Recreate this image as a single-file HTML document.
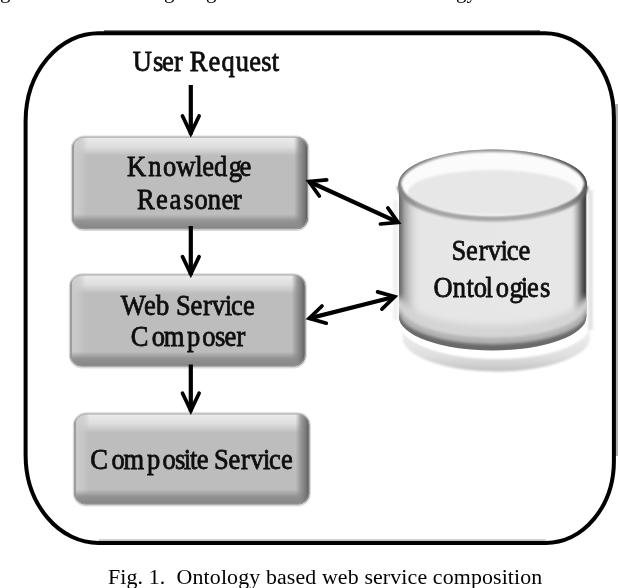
<!DOCTYPE html>
<html lang="en">
<head>
<meta charset="utf-8">
<title>Fig. 1. Ontology based web service composition</title>
<style>
  html, body { margin: 0; padding: 0; background: #fff; }
  body { width: 618px; height: 588px; overflow: hidden; position: relative; }
  svg { position: absolute; left: 0; top: 0; display: block; }
  text { font-family: "Liberation Serif", "DejaVu Serif", serif; }
</style>
</head>
<body>
<svg width="618" height="588" viewBox="0 0 618 588">
  <defs>
    <!-- box bevel gradients -->
    <linearGradient id="gTop" x1="0" y1="0" x2="0" y2="1">
      <stop offset="0" stop-color="#ececec" stop-opacity="1"/>
      <stop offset="0.5" stop-color="#e0e0e0" stop-opacity="0.95"/>
      <stop offset="0.78" stop-color="#d4d4d4" stop-opacity="0.6"/>
      <stop offset="1" stop-color="#c0c0c0" stop-opacity="0"/>
    </linearGradient>
    <linearGradient id="gBot" x1="0" y1="0" x2="0" y2="1">
      <stop offset="0" stop-color="#909090" stop-opacity="0"/>
      <stop offset="0.45" stop-color="#8e8e8e" stop-opacity="0.9"/>
      <stop offset="1" stop-color="#848484" stop-opacity="1"/>
    </linearGradient>
    <linearGradient id="gRight" x1="0" y1="0" x2="1" y2="0">
      <stop offset="0" stop-color="#8c8c8c" stop-opacity="0"/>
      <stop offset="0.4" stop-color="#8a8a8a" stop-opacity="0.8"/>
      <stop offset="0.8" stop-color="#727272" stop-opacity="1"/>
      <stop offset="1" stop-color="#525252" stop-opacity="1"/>
    </linearGradient>
    <linearGradient id="gLeft" x1="0" y1="0" x2="1" y2="0">
      <stop offset="0" stop-color="#868686" stop-opacity="1"/>
      <stop offset="0.07" stop-color="#8c8c8c" stop-opacity="1"/>
      <stop offset="0.16" stop-color="#cccccc" stop-opacity="0.95"/>
      <stop offset="0.6" stop-color="#c9c9c9" stop-opacity="0.7"/>
      <stop offset="1" stop-color="#c4c4c4" stop-opacity="0"/>
    </linearGradient>
    <filter id="soft" x="-5%" y="-5%" width="110%" height="110%">
      <feGaussianBlur stdDeviation="0.6"/>
    </filter>
    <filter id="tblur" x="-2%" y="-20%" width="104%" height="140%">
      <feGaussianBlur stdDeviation="0.45"/>
    </filter>
    <filter id="cblur" x="-2%" y="-20%" width="104%" height="140%">
      <feGaussianBlur stdDeviation="0.25"/>
    </filter>
    <filter id="rimblur2" x="-5%" y="-60%" width="110%" height="220%">
      <feGaussianBlur stdDeviation="3"/>
    </filter>
    <filter id="rimblur" x="-5%" y="-50%" width="110%" height="200%">
      <feGaussianBlur stdDeviation="1.8"/>
    </filter>
    <filter id="ablur" x="-5%" y="-5%" width="110%" height="110%">
      <feGaussianBlur stdDeviation="0.35"/>
    </filter>
    <filter id="soft3" x="-5%" y="-15%" width="110%" height="130%">
      <feGaussianBlur stdDeviation="1.15"/>
    </filter>
    <filter id="soft2" x="-10%" y="-10%" width="120%" height="130%">
      <feGaussianBlur stdDeviation="1.2"/>
    </filter>

    <clipPath id="cb1"><rect x="72" y="136.8" width="236" height="92.4" rx="12" ry="12"/></clipPath>
    <clipPath id="cb2"><rect x="70" y="274.6" width="235.5" height="92" rx="12" ry="12"/></clipPath>
    <clipPath id="cb3"><rect x="74" y="413.6" width="235.5" height="91" rx="12" ry="12"/></clipPath>

    <!-- cylinder gradients -->
    <linearGradient id="cylBody" x1="0" y1="0" x2="1" y2="0">
      <stop offset="0" stop-color="#e6e6e6"/>
      <stop offset="1" stop-color="#e7e7e7"/>
    </linearGradient>
    <linearGradient id="cylSide" gradientUnits="userSpaceOnUse" x1="399" y1="0" x2="586.3" y2="0">
      <stop offset="0" stop-color="#6a6a6a" stop-opacity="1"/>
      <stop offset="0.012" stop-color="#787878" stop-opacity="1"/>
      <stop offset="0.03" stop-color="#a2a2a2" stop-opacity="0.97"/>
      <stop offset="0.06" stop-color="#c8c8c8" stop-opacity="0.9"/>
      <stop offset="0.085" stop-color="#dadada" stop-opacity="0.7"/>
      <stop offset="0.12" stop-color="#e6e6e6" stop-opacity="0"/>
      <stop offset="0.915" stop-color="#e6e6e6" stop-opacity="0"/>
      <stop offset="0.94" stop-color="#c6c6c6" stop-opacity="0.85"/>
      <stop offset="0.958" stop-color="#9e9e9e" stop-opacity="1"/>
      <stop offset="0.976" stop-color="#666666" stop-opacity="1"/>
      <stop offset="0.99" stop-color="#444444" stop-opacity="1"/>
      <stop offset="1" stop-color="#505050" stop-opacity="1"/>
    </linearGradient>
    <linearGradient id="cylRefl" x1="0" y1="0" x2="0" y2="1">
      <stop offset="0" stop-color="#f4f4f4"/>
      <stop offset="0.7" stop-color="#dedede"/>
      <stop offset="1" stop-color="#c2c2c2"/>
    </linearGradient>
    <linearGradient id="rimBack" gradientUnits="userSpaceOnUse" x1="399" y1="0" x2="586.3" y2="0">
      <stop offset="0" stop-color="#7c7c7c"/>
      <stop offset="0.25" stop-color="#a4a4a4"/>
      <stop offset="0.6" stop-color="#9c9c9c"/>
      <stop offset="0.85" stop-color="#6c6c6c"/>
      <stop offset="1" stop-color="#4c4c4c"/>
    </linearGradient>
    <linearGradient id="rimFront" gradientUnits="userSpaceOnUse" x1="399" y1="0" x2="586.3" y2="0">
      <stop offset="0" stop-color="#808080"/>
      <stop offset="0.12" stop-color="#a4a4a4"/>
      <stop offset="0.8" stop-color="#ababab"/>
      <stop offset="0.93" stop-color="#8a8a8a"/>
      <stop offset="1" stop-color="#5a5a5a"/>
    </linearGradient>
    <clipPath id="ctop"><ellipse cx="492.65" cy="184.5" rx="94.3" ry="35.2"/></clipPath>
    <clipPath id="ccyl"><path d="M399,184.5 L399,316.5 A93.65,34 0 0 0 586.3,316.5 L586.3,184.5 Z"/></clipPath>
  </defs>

  <rect x="0" y="0" width="618" height="588" fill="#ffffff"/>

  <!-- clipped line of body text above the figure: only descenders remain visible -->
  <g font-size="21" fill="#000" filter="url(#cblur)">
    <text x="0" y="-2.5">g</text>
    <text x="164" y="-2.5">g</text>
    <text x="206" y="-2.5">g</text>
    <text x="456" y="-2.5">gy</text>
  </g>

  <!-- outer rounded frame -->
  <rect x="615.3" y="104" width="2.7" height="352" fill="#b0b0b0"/>
  <rect x="98.6" y="539.2" width="447.3" height="2" fill="#c6c6c6"/>
  <rect x="104" y="30.1" width="436" height="2" fill="#6c6c6c"/>
  <path d="M98.6,33.2 H544.9 A69,84 0 0 1 613.9,117.2 V460.9 A68,82 0 0 1 545.9,542.9 H98.6 A73,88 0 0 1 25.6,454.9 V121.2 A73,88 0 0 1 98.6,33.2 Z" fill="none" stroke="#000" stroke-width="4"/>

  <!-- ===== Box 1 : Knowledge Reasoner ===== -->
  <g filter="url(#soft)">
    <rect x="70.8" y="135.5" width="238.6" height="95.5" rx="13.2" ry="13.2" fill="#d9d9d9"/>
    <rect x="72" y="136.8" width="236" height="92.4" rx="12" ry="12" fill="#bdbdbd"/>
    <g clip-path="url(#cb1)">
      <rect x="72" y="136.8" width="236" height="20" fill="url(#gTop)"/>
      <rect x="72" y="136.8" width="16" height="92.4" fill="url(#gLeft)"/>
      <rect x="72" y="214.2" width="236" height="15" fill="url(#gBot)"/>
      <rect x="294" y="136.8" width="14" height="92.4" fill="url(#gRight)"/>
    </g>
    <rect x="72.5" y="137.3" width="235" height="91.4" rx="11.5" ry="11.5" fill="none" stroke="#a2a2a2" stroke-width="1" stroke-opacity="0.8"/>
  </g>

  <!-- ===== Box 2 : Web Service Composer ===== -->
  <g filter="url(#soft)">
    <rect x="68.8" y="273.3" width="238.1" height="95.1" rx="13.2" ry="13.2" fill="#d9d9d9"/>
    <rect x="70" y="274.6" width="235.5" height="92" rx="12" ry="12" fill="#bdbdbd"/>
    <g clip-path="url(#cb2)">
      <rect x="70" y="274.6" width="235.5" height="20" fill="url(#gTop)"/>
      <rect x="70" y="274.6" width="16" height="92" fill="url(#gLeft)"/>
      <rect x="70" y="351.6" width="235.5" height="15" fill="url(#gBot)"/>
      <rect x="291.5" y="274.6" width="14" height="92" fill="url(#gRight)"/>
    </g>
    <rect x="70.5" y="275.1" width="234.5" height="91" rx="11.5" ry="11.5" fill="none" stroke="#a2a2a2" stroke-width="1" stroke-opacity="0.8"/>
  </g>

  <!-- ===== Box 3 : Composite Service ===== -->
  <g filter="url(#soft)">
    <rect x="72.8" y="412.3" width="238.1" height="94.1" rx="13.2" ry="13.2" fill="#d9d9d9"/>
    <rect x="74" y="413.6" width="235.5" height="91" rx="12" ry="12" fill="#bdbdbd"/>
    <g clip-path="url(#cb3)">
      <rect x="74" y="413.6" width="235.5" height="20" fill="url(#gTop)"/>
      <rect x="74" y="413.6" width="16" height="91" fill="url(#gLeft)"/>
      <rect x="74" y="489.6" width="235.5" height="15" fill="url(#gBot)"/>
      <rect x="295.5" y="413.6" width="14" height="91" fill="url(#gRight)"/>
    </g>
    <rect x="74.5" y="414.1" width="234.5" height="90" rx="11.5" ry="11.5" fill="none" stroke="#a2a2a2" stroke-width="1" stroke-opacity="0.8"/>
  </g>

  <!-- ===== Cylinder : Service Ontologies ===== -->
  <!-- soft shadow / reflection below and to the right -->
  <g filter="url(#soft2)">
    <path d="M402.5,327 A93.65,34 0 0 0 590,323 L590,336.5 A93.65,34 0 0 1 402.5,338.5 Z" fill="url(#cylRefl)"/>
    <rect x="588" y="190" width="5" height="140" fill="#d8d8d8" opacity="0.7"/>
    <rect x="393" y="200" width="5" height="120" fill="#eeeeee" opacity="0.8"/>
  </g>
  <g filter="url(#soft)">
    <!-- white gap under the body -->
    <path d="M399,318 A93.65,34 0 0 0 586.3,318 L586.3,323.3 A93.65,34 0 0 1 399,323.3 Z" fill="#ffffff"/>
    <!-- body -->
    <path d="M399,184.5 L399,316.5 A93.65,34 0 0 0 586.3,316.5 L586.3,184.5 Z" fill="url(#cylBody)"/>
    <!-- side shading re-applied over the rim -->
    <path d="M399,184.5 L399,316.5 A93.65,34 0 0 0 586.3,316.5 L586.3,184.5 Z" fill="url(#cylSide)"/>
    <!-- dark lower rim, blurred upward into the body -->
    <g clip-path="url(#ccyl)">
      <g filter="url(#rimblur2)" fill="none">
        <path d="M396,298 A96.8,34 0 0 0 589.7,298" stroke="#d4d4d4" stroke-width="14"/>
      </g>
      <g filter="url(#rimblur)" fill="none">
        <path d="M396,308.5 A96.8,34 0 0 0 589.7,308.5" stroke="#b4b4b4" stroke-width="10"/>
        <path d="M396,314.5 A96.8,34 0 0 0 589.7,314.5" stroke="#6a6a6a" stroke-width="9"/>
      </g>
    </g>
    <!-- top face -->
    <ellipse cx="492.65" cy="184.5" rx="93.65" ry="34.5" fill="#fbfbfb"/>
  </g>
  <g filter="url(#soft2)">
    <ellipse cx="492.65" cy="192.5" rx="85" ry="22.5" fill="#e7e7e7"/>
  </g>
  <g clip-path="url(#ctop)">
    <g filter="url(#soft3)" fill="none">
      <ellipse cx="492.65" cy="184.5" rx="93.65" ry="34.5" stroke="url(#rimBack)" stroke-width="4.2"/>
    </g>
  </g>
  <g filter="url(#soft3)" fill="none">
    <path d="M399.3,186 A93.35,33.2 0 0 0 586,186" stroke="url(#rimFront)" stroke-width="4.4"/>
  </g>
  <g filter="url(#soft)" fill="none">
    <path d="M399,188 L399,184.5 A93.65,34.5 0 0 1 586.3,184.5 L586.3,188" stroke="url(#rimBack)" stroke-width="1.2"/>
  </g>

  <!-- ===== Arrows ===== -->
  <g stroke="#000" fill="none" filter="url(#ablur)">
    <path stroke-width="4.2" stroke-linecap="butt" d="M190.8,85.0 L190.8,134.4 M190.8,226.0 L190.8,275.0 M190.8,364.5 L190.8,411.6 M309.0,181.5 L398.1,222.4 M309.2,318.4 L394.7,296.7"/>
    <path stroke-width="3.7" stroke-linecap="round" stroke-linejoin="miter" d="M182.5,116.0 L190.8,133.4 L199.1,116.0 M182.5,256.6 L190.8,274.0 L199.1,256.6 M182.5,393.2 L190.8,410.6 L199.1,393.2 M380.4,224.0 L398.1,222.4 L387.8,207.9 M326.7,179.9 L309.0,181.5 L319.3,196.0 M381.9,309.1 L394.7,296.7 L377.6,291.9 M322.0,306.0 L309.2,318.4 L326.3,323.2"/>
  </g>

  <!-- ===== Labels (Times, vertically stretched as in the scan) ===== -->
  <g font-size="26.5" fill="#0a0a0a" stroke="#0a0a0a" stroke-width="0.7" filter="url(#tblur)">
    <g transform="translate(0,70.9) scale(1,1.14)"><text x="132.8 153.0 162.0 174.0 182.8 189.8 208.5 221.4 235.8 249.3 261.2 271.8" y="0">User Request</text></g>
    <g transform="translate(0,176.2) scale(1,1.14)"><text x="126.9 148.2 163.0 176.2 195.3 202.2 214.1 228.8 239.5" y="0">Knowledge</text></g>
    <g transform="translate(0,208.6) scale(1,1.14)"><text x="137.0 155.9 169.5 183.4 194.6 207.8 221.4 232.8" y="0">Reasoner</text></g>
    <g transform="translate(0,314.5) scale(1,1.14)"><text x="120.8 143.9 155.9 169.2 176.0 190.5 202.9 211.9 224.8 231.0 242.9" y="0">Web Service</text></g>
    <g transform="translate(0,346.2) scale(1,1.14)"><text x="130.7 151.8 163.7 187.1 202.2 215.0 224.6 236.5" y="0">Composer</text></g>
    <g transform="translate(0,469.1) scale(1,1.14)"><text x="90.3 111.5 123.5 147.1 162.5 175.0 183.8 190.0 196.8 208.6 213.9 228.6 241.0 250.2 263.0 269.1 281.0" y="0">Composite Service</text></g>
    <g transform="translate(0,260.2) scale(1,1.14)"><text x="451.4 466.1 478.7 487.8 500.6 506.7 518.6" y="0">Service</text></g>
    <g transform="translate(0,297.2) scale(1,1.14)"><text x="433.6 452.7 466.6 473.7 485.6 495.7 509.6 520.8 526.9 540.1" y="0">Ontologies</text></g>
  </g>

  <!-- caption -->
  <g transform="translate(0,583.6) scale(1,0.935)" filter="url(#cblur)">
    <text x="108" y="0" font-size="21.9" fill="#000" textLength="434.3" lengthAdjust="spacing" xml:space="preserve">Fig. 1.  Ontology based web service composition</text>
  </g>
</svg>
</body>
</html>
